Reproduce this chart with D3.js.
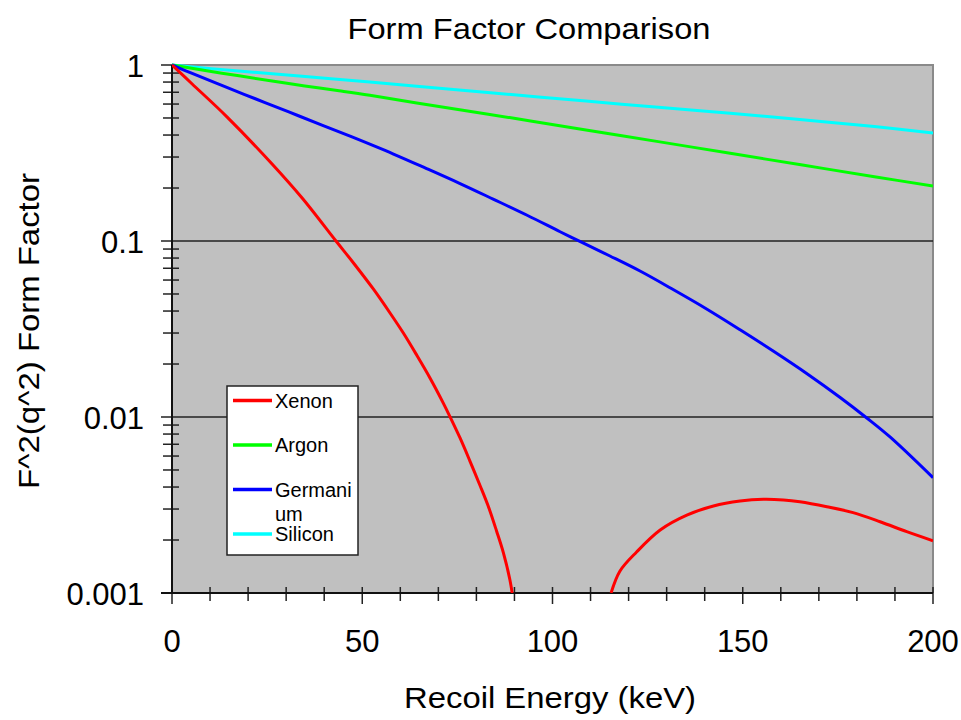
<!DOCTYPE html>
<html>
<head>
<meta charset="utf-8">
<script src="https://cdn.jsdelivr.net/npm/d3@7"></script>
<style>
  html, body { margin: 0; padding: 0; background: #ffffff; }
  svg { display: block; }
  text { font-family: Arial, "Liberation Sans", sans-serif; fill: #000; }
</style>
</head>
<body>
<svg id="chart" width="961" height="720"></svg>
<script>
// Squared nuclear form factor vs. recoil energy for four target nuclei.
const xTicks = [0, 50, 100, 150, 200];
const yTicks = [1, 0.1, 0.01, 0.001];
const yTickLabels = ["1", "0.1", "0.01", "0.001"];

const seriesNames = ["Xenon", "Argon", "Germanium", "Silicon"];
const seriesColors = ["#ff0000", "#00ff00", "#0000ff", "#00ffff"];

// Xenon: first lobe drops below 0.001 near 89 keV, the second lobe comes back near 115 keV
const xenonEnergy = [0, 5.3, 14.5, 26.3, 34.2, 43.1, 47.7, 52.9, 57.3, 60.8, 64.3, 67.8, 71.3, 73.1, 75.7, 78.3, 80.9, 83.1, 85.3, 87.1, 88.8, 89.4,
  100,
  115.4, 117.7, 122.1, 128.3, 135.3, 142.3, 149.3, 155.4, 160.7, 165.0, 172.1, 179.0, 186.1, 193.1, 200];
const xenonValues = [1, 0.78, 0.506, 0.274, 0.1755, 0.100, 0.075, 0.0534, 0.039, 0.030, 0.0225, 0.01667, 0.012, 0.010, 0.0076, 0.00562, 0.00411, 0.00312, 0.00225, 0.00169, 0.00119, 0.001,
  null,
  0.001, 0.00133, 0.00171, 0.00228, 0.00277, 0.00312, 0.00333, 0.00341, 0.00338, 0.0033, 0.00309, 0.00286, 0.00254, 0.00223, 0.00198];

const argonEnergy = [0, 8.7, 17.6, 26.3, 34.9, 43.9, 52.0, 71.0, 89.9, 108.8, 127.8, 146.7, 165.7, 184.6, 200];
const argonValues = [1, 0.931, 0.868, 0.811, 0.76, 0.714, 0.673, 0.577, 0.498, 0.427, 0.367, 0.315, 0.27, 0.232, 0.205];

const germaniumEnergy = [0, 5.3, 13.1, 21.9, 30.7, 39.4, 47.3, 58.2, 66.9, 75.7, 84.4, 93.2, 102.0, 107.2, 115.1, 123.0, 131.7, 140.5, 149.2, 158.0, 166.8, 175.6, 182.6, 188.7, 200];
const germaniumValues = [1, 0.895, 0.765, 0.643, 0.541, 0.456, 0.39, 0.312, 0.258, 0.212, 0.173, 0.1405, 0.1129, 0.0994, 0.0822, 0.0675, 0.053, 0.0411, 0.0314, 0.0237, 0.01767, 0.0129, 0.00987, 0.0077, 0.00452];

const siliconEnergy = [0, 17.5, 35.0, 52.0, 71.0, 89.9, 108.8, 127.8, 146.7, 165.7, 184.6, 200];
const siliconValues = [1, 0.924, 0.86, 0.80, 0.735, 0.677, 0.624, 0.575, 0.532, 0.488, 0.447, 0.411];

const seriesEnergy = [xenonEnergy, argonEnergy, germaniumEnergy, siliconEnergy];
const seriesValues = [xenonValues, argonValues, germaniumValues, siliconValues];

const svg = d3.select("#chart");
const plot = { left: 172, right: 933, top: 65, bottom: 593 };

const x = d3.scaleLinear().domain([0, 200]).range([plot.left, plot.right]);
const y = d3.scaleLog().domain([0.001, 1]).range([plot.bottom, plot.top]);

// plot background
svg.append("rect")
  .attr("x", plot.left).attr("y", plot.top)
  .attr("width", plot.right - plot.left).attr("height", plot.bottom - plot.top)
  .attr("fill", "#c0c0c0");

// grey frame on the top and right
svg.append("path")
  .attr("d", `M${plot.left},${plot.top}H${plot.right}V${plot.bottom}`)
  .attr("fill", "none").attr("stroke", "#8a8a8a").attr("stroke-width", 2);

// horizontal gridlines at the inner decades
svg.append("g").selectAll("line")
  .data([0.1, 0.01])
  .join("line")
  .attr("x1", plot.left).attr("x2", plot.right)
  .attr("y1", d => y(d)).attr("y2", d => y(d))
  .attr("stroke", "#222").attr("stroke-width", 1.5);

// y minor ticks crossing the axis
const minorY = [];
[0.001, 0.01, 0.1].forEach(dec => { for (let k = 2; k <= 9; k++) minorY.push(+(k * dec).toPrecision(3)); });
svg.append("g").selectAll("line")
  .data(minorY)
  .join("line")
  .attr("x1", plot.left - 9).attr("x2", plot.left + 7)
  .attr("y1", d => y(d)).attr("y2", d => y(d))
  .attr("stroke", "#222").attr("stroke-width", 1.5);

// y major ticks outside the axis
svg.append("g").selectAll("line")
  .data(yTicks)
  .join("line")
  .attr("x1", plot.left - 11).attr("x2", plot.left)
  .attr("y1", d => y(d)).attr("y2", d => y(d))
  .attr("stroke", "#222").attr("stroke-width", 1.5);

// x ticks every 10 keV, longer at every 50
const xTickVals = d3.range(0, 201, 10);
svg.append("g").selectAll("line")
  .data(xTickVals)
  .join("line")
  .attr("x1", d => x(d)).attr("x2", d => x(d))
  .attr("y1", plot.bottom - 6)
  .attr("y2", d => plot.bottom + (d % 50 === 0 ? 11 : 8))
  .attr("stroke", "#222").attr("stroke-width", 1.5);

// axis lines
svg.append("line")
  .attr("x1", plot.left).attr("x2", plot.left)
  .attr("y1", plot.top).attr("y2", plot.bottom)
  .attr("stroke", "#111").attr("stroke-width", 2);
svg.append("line")
  .attr("x1", plot.left - 11).attr("x2", plot.right)
  .attr("y1", plot.bottom).attr("y2", plot.bottom)
  .attr("stroke", "#111").attr("stroke-width", 2);

// curves
const clipId = "plotClip";
svg.append("clipPath").attr("id", clipId)
  .append("rect")
  .attr("x", plot.left).attr("y", plot.top - 2)
  .attr("width", plot.right - plot.left).attr("height", plot.bottom - plot.top + 2);

const line = d3.line()
  .defined(d => d[1] != null)
  .x(d => x(d[0]))
  .y(d => y(d[1]))
  .curve(d3.curveCatmullRom.alpha(0.5));

const curves = svg.append("g").attr("clip-path", `url(#${clipId})`);
// draw order: silicon and argon first, xenon last
[3, 1, 2, 0].forEach(i => {
  const pts = seriesEnergy[i].map((e, j) => [e, seriesValues[i][j]]);
  curves.append("path")
    .datum(pts)
    .attr("d", line)
    .attr("fill", "none")
    .attr("stroke", seriesColors[i])
    .attr("stroke-width", 3)
    .attr("stroke-linejoin", "round");
});

// tick labels
svg.append("g").selectAll("text")
  .data(yTicks)
  .join("text")
  .attr("x", 144)
  .attr("y", d => y(d) + 12)
  .attr("text-anchor", "end")
  .attr("font-size", 31)
  .text((d, i) => yTickLabels[i]);

svg.append("g").selectAll("text")
  .data(xTicks)
  .join("text")
  .attr("x", d => x(d))
  .attr("y", 652)
  .attr("text-anchor", "middle")
  .attr("font-size", 31)
  .text(d => d);

// titles
svg.append("text")
  .attr("x", 529).attr("y", 39)
  .attr("text-anchor", "middle")
  .attr("font-size", 29)
  .attr("textLength", 363).attr("lengthAdjust", "spacingAndGlyphs")
  .text("Form Factor Comparison");

svg.append("text")
  .attr("x", 550).attr("y", 708)
  .attr("text-anchor", "middle")
  .attr("font-size", 29)
  .attr("textLength", 292).attr("lengthAdjust", "spacingAndGlyphs")
  .text("Recoil Energy (keV)");

svg.append("text")
  .attr("transform", "translate(39,331) rotate(-90)")
  .attr("text-anchor", "middle")
  .attr("font-size", 29)
  .attr("textLength", 316).attr("lengthAdjust", "spacingAndGlyphs")
  .text("F^2(q^2) Form Factor");

// legend
const legend = svg.append("g");
legend.append("rect")
  .attr("x", 227).attr("y", 386)
  .attr("width", 131).attr("height", 169)
  .attr("fill", "#ffffff").attr("stroke", "#222").attr("stroke-width", 1.5);

const legendRows = [400.5, 445, 489.5, 534];
const legendItems = legend.selectAll("g.item")
  .data(seriesNames)
  .join("g").attr("class", "item")
  .attr("transform", (d, i) => `translate(0,${legendRows[i]})`);
legendItems.append("line")
  .attr("x1", 233).attr("x2", 272)
  .attr("stroke", (d, i) => seriesColors[i])
  .attr("stroke-width", 3.5);
legendItems.append("text")
  .attr("x", 275).attr("y", 7)
  .attr("font-size", 20)
  .each(function (d) {
    const t = d3.select(this);
    if (d === "Germanium") {
      t.append("tspan").attr("x", 275).attr("dy", 0).text("Germani");
      t.append("tspan").attr("x", 275).attr("dy", 24).text("um");
    } else {
      t.text(d);
    }
  });
</script>
</body>
</html>
